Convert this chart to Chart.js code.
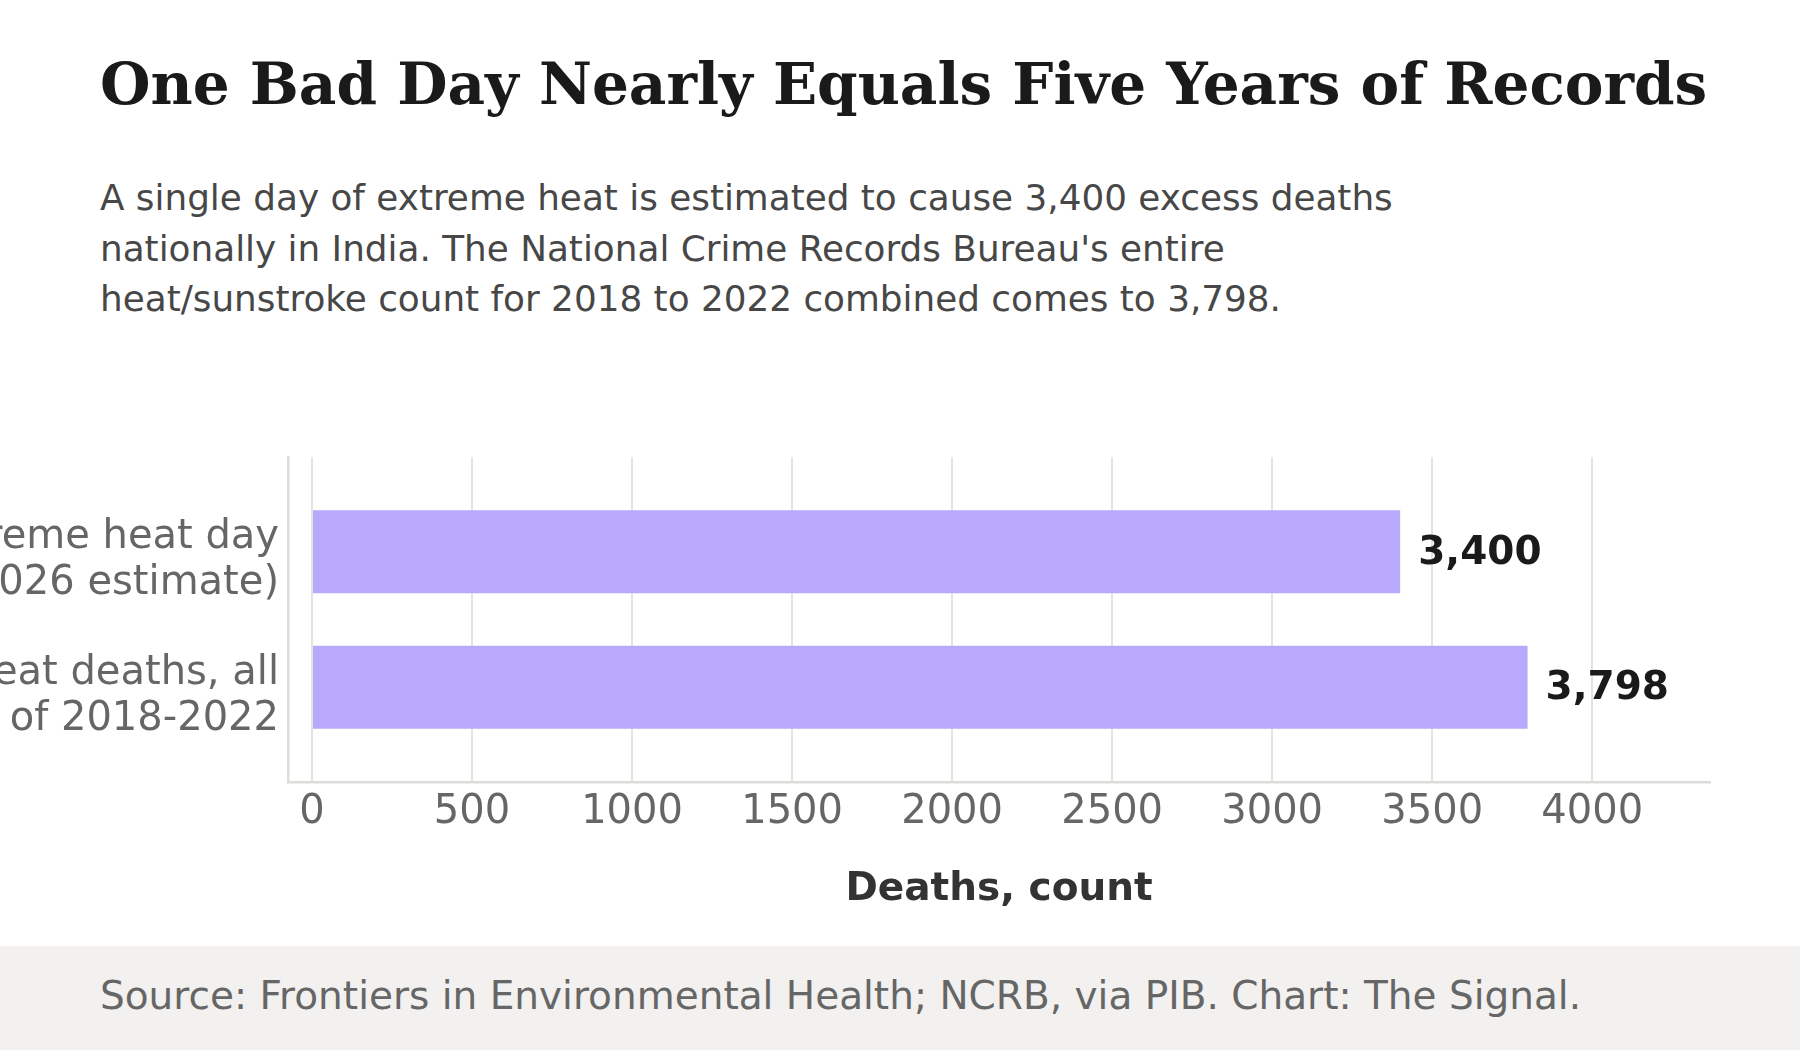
<!DOCTYPE html>
<html>
<head>
<meta charset="utf-8">
<script src="https://cdn.jsdelivr.net/npm/chart.js@4.4.1/dist/chart.umd.min.js"></script>
<style>
  html, body { margin: 0; padding: 0; background: #fff; }
  body { width: 1800px; height: 1050px; position: relative; overflow: hidden; font-family: 'DejaVu Sans', sans-serif; }
  #title { position: absolute; left: 100px; top: 50px; font-family: 'DejaVu Serif', serif; font-weight: bold; font-size: 58px; line-height: 1.2; color: #1a1a1a; white-space: nowrap; }
  #subtitle { position: absolute; left: 100px; top: 173px; font-size: 35.8px; line-height: 50.5px; color: #474747; white-space: nowrap; }
  #chart-wrap { position: absolute; left: 0; top: 420px; width: 1800px; height: 520px; }
  #footer { position: absolute; left: 0; top: 946px; width: 1800px; height: 104px; background: #f2f1ef; }
  #footer span { position: absolute; left: 100px; top: 27px; font-size: 39px; line-height: 46px; color: #666; white-space: nowrap; }
</style>
</head>
<body>
<div id="title">One Bad Day Nearly Equals Five Years of Records</div>
<div id="subtitle">A single day of extreme heat is estimated to cause 3,400 excess deaths<br>nationally in India. The National Crime Records Bureau's entire<br>heat/sunstroke count for 2018 to 2022 combined comes to 3,798.</div>
<div id="chart-wrap"><canvas id="bar-chart"></canvas></div>
<div id="footer"><span>Source: Frontiers in Environmental Health; NCRB, via PIB. Chart: The Signal.</span></div>

<script>
// data
const categories = [
    ['One extreme heat day', '(2026 estimate)'],
    ['NCRB heat deaths, all', 'of 2018-2022']
];
const deaths = [3400, 3798];
const xTicks = [0, 500, 1000, 1500, 2000, 2500, 3000, 3500, 4000];

Chart.defaults.font.family = "'DejaVu Sans', sans-serif";

// value labels to the right of each bar
const barValueLabels = {
    id: 'barValueLabels',
    afterDatasetsDraw(chart) {
        const ctx = chart.ctx;
        const meta = chart.getDatasetMeta(0);
        ctx.save();
        ctx.font = "bold 39px 'DejaVu Sans'";
        ctx.fillStyle = '#1a1a1a';
        ctx.textAlign = 'left';
        ctx.textBaseline = 'middle';
        meta.data.forEach(function (bar, i) {
            ctx.fillText(deaths[i].toLocaleString('en-US'), bar.x + 18, bar.y + 2);
        });
        ctx.restore();
    }
};

document.addEventListener('DOMContentLoaded', function () {
    const ctx = document.getElementById('bar-chart').getContext('2d');

    new Chart(ctx, {
        type: 'bar',
        data: {
            datasets: [{
                data: deaths.map((v, i) => ({ x: v, y: i })),
                backgroundColor: '#b8a9fd',
                borderWidth: 0,
                categoryPercentage: 1,
                barPercentage: 0.613
            }]
        },
        options: {
            indexAxis: 'y',
            responsive: true,
            maintainAspectRatio: false,
            animation: false,
            layout: { padding: { top: 37, right: 90, bottom: 0, left: 0 } },
            plugins: {
                legend: { display: false },
                tooltip: { enabled: false }
            },
            scales: {
                x: {
                    type: 'linear',
                    min: -75,
                    max: 4368,
                    afterBuildTicks: function (scale) {
                        scale.ticks = xTicks.map(v => ({ value: v }));
                    },
                    afterFit: function (scale) {
                        scale.height = 158;
                        scale.paddingLeft = 0;
                        scale.paddingRight = 0;
                    },
                    grid: { color: '#e4e3df', lineWidth: 2, drawTicks: false },
                    border: { color: '#dcdcd8', width: 2.5 },
                    ticks: {
                        color: '#666',
                        font: { size: 40 },
                        padding: 7,
                        maxRotation: 0,
                        callback: function (value) { return String(value); }
                    },
                    title: {
                        display: true,
                        text: 'Deaths, count',
                        color: '#333',
                        font: { size: 39, weight: 'bold' },
                        padding: { top: 0, bottom: 27 }
                    }
                },
                y: {
                    type: 'linear',
                    reverse: true,
                    offset: false,
                    min: -0.7,
                    max: 1.7,
                    afterBuildTicks: function (scale) {
                        scale.ticks = categories.map((c, i) => ({ value: i }));
                    },
                    afterFit: function (scale) {
                        scale.width = 288;
                        scale.paddingTop = 0;
                        scale.paddingBottom = 0;
                    },
                    grid: { display: false, drawTicks: false },
                    border: { color: '#dcdcd8', width: 2.5 },
                    ticks: {
                        color: '#666',
                        font: { size: 40, lineHeight: 1.15 },
                        padding: 9,
                        labelOffset: 9,
                        callback: function (value) { return categories[value]; }
                    }
                }
            }
        },
        plugins: [barValueLabels]
    });
});
</script>
</body>
</html>
